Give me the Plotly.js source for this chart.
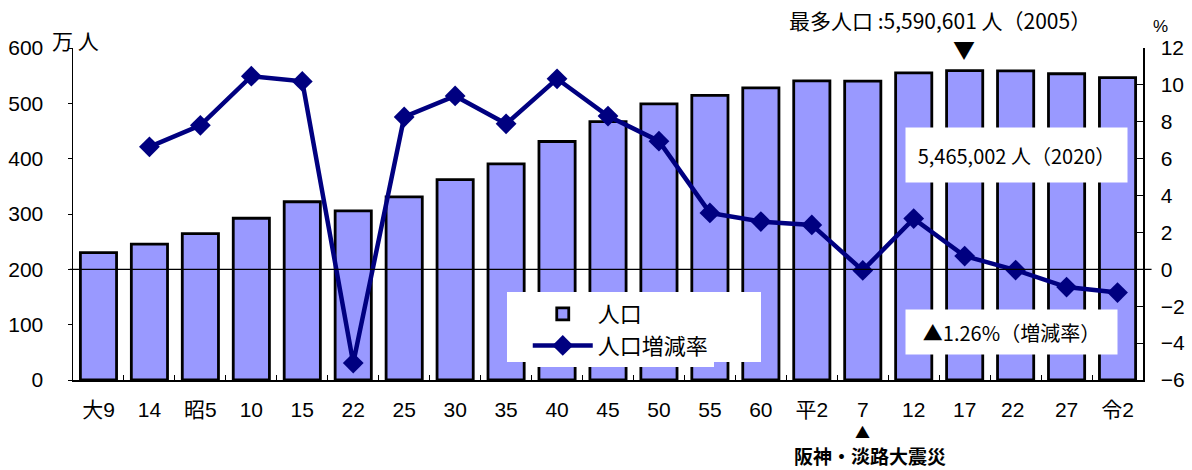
<!DOCTYPE html>
<html><head><meta charset="utf-8">
<script src="https://cdn.plot.ly/plotly-3.0.1.min.js"></script>
<style>body{margin:0;background:#fff}#c{width:1192px;height:470px}</style>
</head><body><div id="c"></div>
<script>
const categories = ["大9","14","昭5","10","15","22","25","30","35","40","45","50","55","60","平2","7","12","17","22 ","27","令2"];
const population = [230.2,245.5,264.6,292.3,322.1,305.7,331.0,362.1,390.6,431.0,466.8,499.2,514.5,527.8,540.5,540.2,555.1,559.1,558.8,553.5,546.5];
const rate = [null,6.64,7.81,10.47,10.19,-5.08,8.26,9.40,7.89,10.33,8.31,6.95,3.06,2.59,2.41,-0.06,2.75,0.72,-0.04,-0.96,-1.26];

const F = '"Liberation Sans Narrow","Liberation Sans","Noto Sans CJK JP",sans-serif';
const FJ = '"Noto Sans CJK JP",sans-serif';

const traces = [
  {type:'bar', name:'人口', x:categories, y:population, yaxis:'y',
   marker:{color:'#9999ff', line:{color:'#000', width:2.8}}},
  {type:'scatter', mode:'lines+markers', name:'人口増減率', x:categories, y:rate, yaxis:'y2',
   line:{color:'#000080', width:4.5}, marker:{symbol:'diamond', size:16, color:'#000080'},
   connectgaps:false}
];

const layout = {
  width:1192, height:470,
  margin:{l:73, r:49, t:48, b:90},
  paper_bgcolor:'#fff', plot_bgcolor:'#fff',
  bargap:0.29,
  showlegend:true,
  legend:{x:0.425, y:0.262, xanchor:'left', yanchor:'top', bgcolor:'#fff',
          font:{family:FJ, size:22, color:'#000'}, tracegroupgap:0, itemwidth:60},
  xaxis:{type:'category', range:[-0.5,20.5], showline:true, linecolor:'#000', linewidth:1.5,
         ticks:'inside', tickson:'boundaries', ticklen:5, tickcolor:'#000',
         tickfont:{family:F, size:21, color:'#000'}, showgrid:false, fixedrange:true,
         ticklabelstandoff:10},
  yaxis:{range:[0,600], dtick:100, showline:true, linecolor:'#000', linewidth:1.5,
         ticks:'outside', ticklen:4, tickcolor:'#000', showgrid:false, zeroline:false,
         tickfont:{family:F, size:21, color:'#000'}, ticklabelstandoff:20},
  yaxis2:{range:[-6,12], dtick:2, overlaying:'y', side:'right', showline:true,
          linecolor:'#000', linewidth:1.5, ticks:'inside', ticklen:6, tickcolor:'#000',
          showgrid:false, zeroline:false, tickfont:{family:F, size:21, color:'#000'},
          tickformat:'d', ticklabelstandoff:12},
  shapes:[
    {type:'line', xref:'paper', yref:'y2', x0:-0.003, x1:1.008, y0:0, y1:0,
     line:{color:'#000', width:1.2}},
    {type:'rect', xref:'paper', yref:'paper', x0:0.4056, x1:0.6430, y0:0.054, y1:0.265,
     layer:'above', fillcolor:'#fff', line:{width:0}}
  ],
  annotations:[
    {xref:'paper', yref:'paper', x:-0.0215, y:1.024, xanchor:'left', yanchor:'middle', showarrow:false,
     text:'万 人', font:{family:FJ, size:21, color:'#000'}},
    {xref:'paper', yref:'paper', x:1.0075, y:1.066, xanchor:'left', yanchor:'middle', showarrow:false,
     text:'%', font:{family:F, size:17, color:'#000'}},
    {xref:'paper', yref:'paper', x:0.810, y:1.084, xanchor:'center', yanchor:'middle', showarrow:false,
     text:'最多人口 :5,590,601 人（2005）', font:{family:FJ, size:21, color:'#000'}},
    {xref:'paper', yref:'paper', x:0.833, y:1.0, xanchor:'center', yanchor:'middle', showarrow:false,
     text:'▼', font:{family:FJ, size:22, color:'#000'}},
    {xref:'paper', yref:'paper', x:0.882, y:0.678, xanchor:'center', yanchor:'middle', showarrow:false,
     text:'5,465,002 人（2020）', font:{family:FJ, size:20, color:'#000'},
     bgcolor:'#fff', width:219, height:52},
    {xref:'paper', yref:'paper', x:0.877, y:0.145, xanchor:'center', yanchor:'middle', showarrow:false,
     text:'▲1.26%（増減率）', font:{family:FJ, size:20, color:'#000'},
     bgcolor:'#fff', width:209, height:42},
    {xref:'paper', yref:'paper', x:0.738, y:-0.156, xanchor:'center', yanchor:'middle', showarrow:false,
     text:'▲', font:{family:FJ, size:15, color:'#000'}},
    {xref:'paper', yref:'paper', x:0.745, y:-0.228, xanchor:'center', yanchor:'middle', showarrow:false,
     text:'<b>阪神・淡路大震災</b>', font:{family:FJ, size:19, color:'#000'}}
  ]
};
Plotly.newPlot('c', traces, layout, {displayModeBar:false, staticPlot:true});
</script></body></html>
